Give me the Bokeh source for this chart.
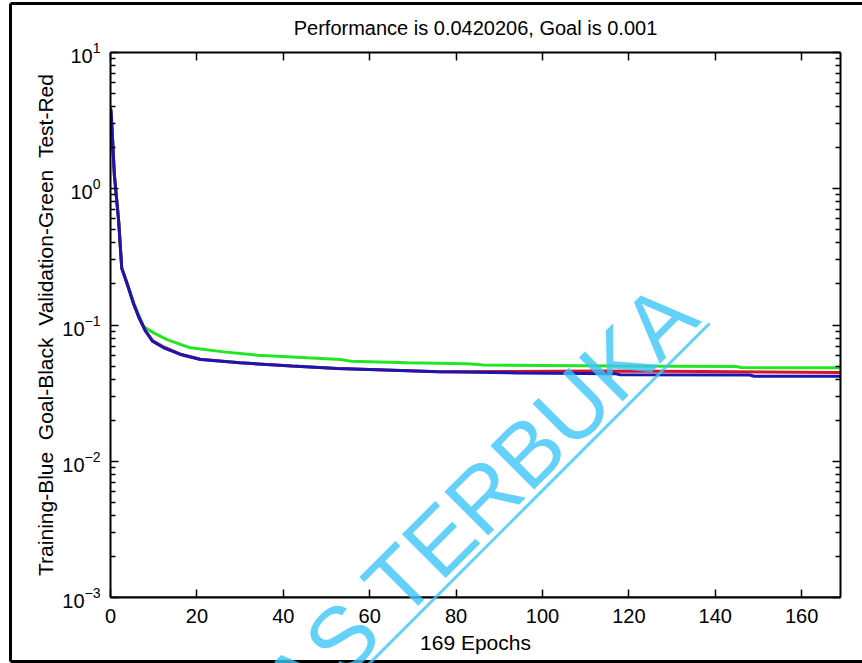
from bokeh.plotting import figure
from bokeh.models import LogAxis, LinearAxis, FixedTicker, CustomJSTickFormatter, Range1d
from bokeh.layouts import column
from bokeh.core.properties import value
from bokeh.embed import file_html
from bokeh.resources import INLINE

# ---------------- data ----------------
title_text = "Performance is 0.0420206, Goal is 0.001"
x_label = "169 Epochs"
y_label = "Training-Blue\u00a0\u00a0Goal-Black\u00a0\u00a0Validation-Green\u00a0\u00a0Test-Red"

n_epochs = 169
goal = 0.001

train_epochs = [0, 0.15, 0.4, 0.6, 0.9, 1.4, 1.9, 2.3, 2.6, 3.9, 5.4, 6.6, 8.1, 9.7,
                12.3, 16.2, 20.8, 30, 42, 52.5, 60, 76, 94, 117, 118, 148, 149, 169]
train_perf = [3.9, 3.76, 2.61, 1.87, 1.26, 0.85, 0.574, 0.366, 0.261, 0.198, 0.141, 0.113, 0.090, 0.076,
              0.068, 0.0608, 0.0558, 0.0528, 0.0500, 0.0480, 0.0472, 0.0454, 0.0445, 0.0438, 0.0432, 0.0430, 0.0421, 0.0420206]

val_epochs = [0, 0.4, 0.9, 1.4, 1.9, 2.3, 2.6, 3.9, 5.4, 6.6, 7.7, 10, 13.1, 18.5, 26.2, 34,
              45.5, 53.2, 55.6, 68.7, 82.6, 86.4, 117, 145, 146, 169]
val_perf = [3.8, 2.6, 1.26, 0.85, 0.574, 0.366, 0.262, 0.20, 0.145, 0.117, 0.097, 0.0875, 0.078, 0.068, 0.0635, 0.060,
            0.0574, 0.0558, 0.0543, 0.0528, 0.0519, 0.0508, 0.0500, 0.0495, 0.0487, 0.0485]

test_epochs = [0, 0.4, 0.9, 1.4, 1.9, 2.3, 2.6, 3.9, 5.4, 6.6, 8.1, 9.7, 12.3, 16.2, 20.8, 30,
               42, 52.5, 60, 76, 94, 113, 137, 169]
test_perf = [3.8, 2.6, 1.26, 0.85, 0.574, 0.366, 0.262, 0.199, 0.142, 0.114, 0.091, 0.077, 0.069, 0.061, 0.0560, 0.0528,
             0.0500, 0.0480, 0.0472, 0.0454, 0.0456, 0.0460, 0.0455, 0.0448]

x_ticks = [0, 20, 40, 60, 80, 100, 120, 140, 160]
y_ticks = [1e-3, 1e-2, 1e-1, 1e0, 1e1]
y_minor = [m * t for t in y_ticks[:-1] for m in range(2, 10)]

watermark_text = ["UNIVERSITAS TERBUKA"]

# ---------------- main figure ----------------
FONT = "Liberation Sans"
W, H = 862, 663
p = figure(width=W, height=H, x_range=(0, n_epochs), y_range=(1e-3, 10),
           y_axis_type="log", output_backend="svg", toolbar_location=None,
           min_border_left=110, min_border_right=22, min_border_top=50, min_border_bottom=66,
           background_fill_color="white", border_fill_color="white")
p.grid.visible = False
p.outline_line_color = None
p.frame_align = False

p.title.text = title_text
p.title.align = "center"
p.title.text_font = FONT
p.title.text_font_size = "20px"
p.title.text_font_style = "normal"
p.title.text_color = "black"
p.title.standoff = 28

blank = CustomJSTickFormatter(code="return ''")

def style_axis(ax):
    ax.axis_line_width = 2
    ax.axis_line_color = "black"
    ax.major_tick_in = 8
    ax.major_tick_out = 0
    ax.minor_tick_in = 5
    ax.minor_tick_out = 0
    ax.major_tick_line_width = 1.5
    ax.minor_tick_line_width = 1.5
    ax.major_label_text_font = FONT
    ax.major_label_text_font_size = "20px"
    ax.major_label_text_color = "black"
    ax.axis_label_text_font = FONT
    ax.axis_label_text_font_size = "21px"
    ax.axis_label_text_font_style = "normal"
    ax.axis_label_text_color = "black"

xt = FixedTicker(ticks=x_ticks)
yt = FixedTicker(ticks=y_ticks, minor_ticks=y_minor)

bx = p.xaxis[0]
bx.ticker = xt
style_axis(bx)
bx.major_label_standoff = 11
bx.axis_label = x_label
bx.axis_label_standoff = 5

ly = p.yaxis[0]
ly.ticker = yt
style_axis(ly)
ly.major_label_standoff = 10
ly.axis_label = y_label
ly.axis_label_standoff = 2

top = LinearAxis(ticker=xt, formatter=blank)
style_axis(top)
top.major_label_standoff = 0
p.add_layout(top, "above")

right = LogAxis(ticker=yt, formatter=blank)
style_axis(right)
right.major_label_standoff = 0
p.add_layout(right, "right")

# ---------------- series ----------------
p.line([0, n_epochs], [goal, goal], line_color="black", line_width=2)
p.line(val_epochs, val_perf, line_color="#22e622", line_width=3)
p.line(test_epochs, test_perf, line_color="#d8102a", line_width=3)
p.line(train_epochs, train_perf, line_color="#1a16b0", line_width=3)

# ---------------- overlay: page frame + watermark (pixel coordinates, y up) ----------------
ov = figure(width=W, height=H, x_range=Range1d(0, W), y_range=Range1d(0, H),
            output_backend="svg", toolbar_location=None, min_border=0,
            x_axis_location=None, y_axis_location=None, title=None,
            background_fill_color=None, border_fill_color=None)
ov.outline_line_color = None
ov.grid.visible = False
ov.frame_align = False
ov.styles = {"position": "absolute", "left": "0px", "top": "0px", "pointer-events": "none"}

# outer picture frame (left, top, bottom edges)
ov.line([10, 10], [2, 660], line_color="black", line_width=3)
ov.line([10, W], [660, 660], line_color="black", line_width=3)
ov.line([10, W], [2, 2], line_color="black", line_width=3)

wm_color = "#3cc6f8"
ov.text(x=[681], y=[365], text=watermark_text, angle=0.785398,
        text_align="right", text_baseline="alphabetic",
        text_font=value(FONT), text_font_size="90px", text_color=wm_color, text_alpha=0.8)
ov.line([332, 709], [-37, 340], line_color=wm_color, line_width=3, line_alpha=0.8)

open("out.html", "w").write(file_html(column(p, ov), INLINE))
